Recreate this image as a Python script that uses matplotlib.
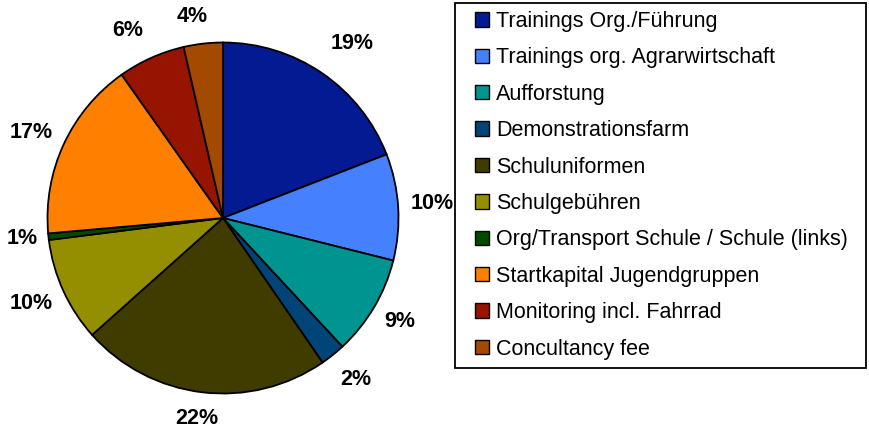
import matplotlib.pyplot as plt
import numpy as np
from matplotlib.patches import Patch, Rectangle

plt.rcParams["font.family"] = ["Liberation Sans", "DejaVu Sans"]

categories = [
    "Trainings Org./Führung",
    "Trainings org. Agrarwirtschaft",
    "Aufforstung",
    "Demonstrationsfarm",
    "Schuluniformen",
    "Schulgebühren",
    "Org/Transport Schule / Schule (links)",
    "Startkapital Jugendgruppen",
    "Monitoring incl. Fahrrad",
    "Concultancy fee",
]
shares = [19.1, 9.8, 9.2, 2.3, 23.0, 9.6, 0.6, 16.6, 6.2, 3.6]
pct_labels = ["19%", "10%", "9%", "2%", "22%", "10%", "1%", "17%", "6%", "4%"]
colors = ["#031a92", "#4580ff", "#009490", "#004478", "#403c00",
          "#948f00", "#004a00", "#ff8000", "#961400", "#a44a00"]
# where each percentage label sits (angle in degrees, distance in pie radii), as in the original
label_angle = [53.7, 4.5, -29.8, -50.1, -97.6, 203.5, 185.3, 155.4, 116.6, 98.7]
label_dist = [1.245, 1.195, 1.162, 1.181, 1.142, 1.19, 1.151, 1.20, 1.208, 1.172]

W, H = 869, 429
fig = plt.figure(figsize=(W / 100, H / 100), dpi=100)

# pie axes in pixel units: centre (223, 218 from top), radius 175.5
R = 175.5
cx, cy = 223.0, H - 218
ax = fig.add_axes([0, 0, 445 / W, 1])
wedges, texts = ax.pie(
    shares, labels=pct_labels, colors=colors, startangle=90, counterclock=False,
    wedgeprops=dict(edgecolor="black", linewidth=1.3),
    textprops=dict(fontsize=15.5, fontweight="bold"),
)
for t, a, d in zip(texts, label_angle, label_dist):
    a = np.deg2rad(a)
    t.set_position((d * np.cos(a), d * np.sin(a) - 2 / R))
    t.set_ha("center")
    t.set_va("center")
ax.set_xlim(-cx / R, (445 - cx) / R)
ax.set_ylim(-cy / R, (H - cy) / R)
ax.set_aspect("auto")

# legend frame drawn separately so the inner padding matches the original
fig.patches.append(Rectangle((455 / W, (H - 368) / H), 411 / W, 365 / H,
                             transform=fig.transFigure, fill=False,
                             edgecolor="black", linewidth=1.3))

handles = [Patch(facecolor=c, edgecolor="black", linewidth=1.0, label=l)
           for l, c in zip(categories, colors)]
leg = fig.legend(
    handles=handles, loc="upper left",
    bbox_to_anchor=(475 / W, 1 - 11 / H), borderaxespad=0, borderpad=0,
    fontsize=15.5, frameon=False,
    handlelength=0.65, handleheight=0.65, handletextpad=0.33,
    labelspacing=0.715,
)

fig.savefig("out.png", dpi=100)
